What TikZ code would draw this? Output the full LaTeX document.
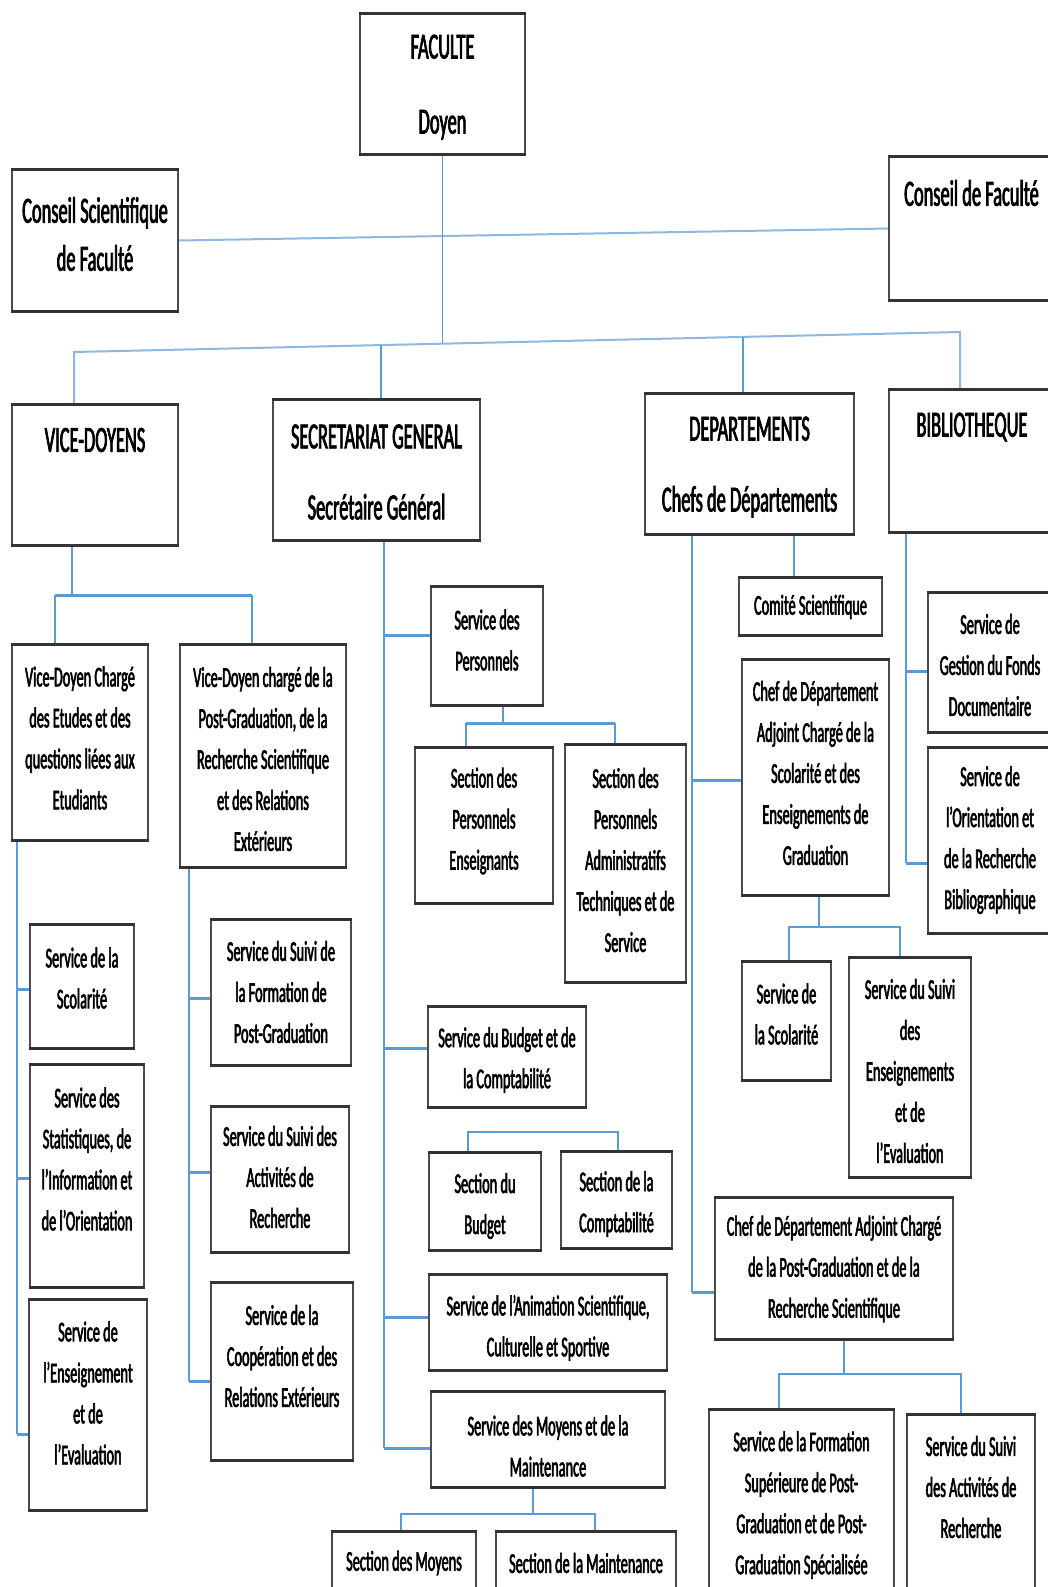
\documentclass[tikz,border=0pt]{standalone}
\usepackage{fontspec}
\setmainfont{Carlito}[FakeStretch=0.5,FakeBold=2]
\definecolor{conn}{HTML}{5B9BD5}
\definecolor{connlight}{HTML}{8DB8E2}
\pgfdeclarelayer{bg}
\pgfsetlayers{bg,main}
\newcommand\smallfs{\fontsize{14.3}{20.5}\selectfont}
\newcommand\bigfs{\fontsize{18.4}{24}\selectfont}
% #1 text style, #2 name, #3 x1, #4 y1, #5 x2, #6 y2, #7 text centre y, #8 text
\newcommand\orgbox[8][]{%
  \node[box, minimum width={(#5-#3)*0.5pt}, minimum height={(#6-#4)*0.5pt}]
    (#2) at ({(#3+#5)/2},{(#4+#6)/2}) {};
  \node[txt,#1] (#2-t) at ({(#3+#5)/2},#7) {#8};%
}
\begin{document}
\begin{tikzpicture}[x=0.5pt,y=-0.5pt,
  box/.style={draw=black!70, line width=0.7pt, fill=white, inner sep=0pt,
    append after command={
      (\tikzlastnode.north west) edge[draw=black!80, line width=1.4pt] (\tikzlastnode.north east)
      (\tikzlastnode.south west) edge[draw=black!80, line width=1.4pt] (\tikzlastnode.south east)}},
  txt/.style={align=center, inner sep=0pt, font=\smallfs},
  big/.style={font=\bigfs},
  trunk/.style={draw=conn, line width=0.6pt},
  branch/.style={draw=conn, line width=1.5pt},
  mid/.style={draw=conn, line width=0.9pt},
  link/.style={draw=connlight, line width=1pt}]
\useasboundingbox (0,0) rectangle (1048,1587);

% top level
\orgbox[big]{fac}{360}{14}{525}{154}{87}{FACULTE\\[13.5pt]Doyen}
\orgbox[big]{csf}{12}{170}{178}{311}{234}{Conseil Scientifique\\de Faculté}
\orgbox[big]{cdf}{889}{157}{1054}{300}{193}{Conseil de Faculté}

% second level
\orgbox[big]{vd}{12}{405}{178}{545}{440}{VICE-DOYENS}
\orgbox[big]{sg}{273}{400}{480}{540}{472}{SECRETARIAT GENERAL\\[11.5pt]Secrétaire Général}
\orgbox[big]{dep}{645}{394}{854}{534}{467}{DEPARTEMENTS\\[11.5pt]Chefs de Départements}
\orgbox[big]{bib}{889}{390}{1055}{532}{427}{BIBLIOTHEQUE}

% vice-deans
\orgbox{vd1}{12}{645}{148}{840}{738}{Vice-Doyen Chargé\\des Etudes et des\\questions liées aux\\Etudiants}
\orgbox{vd2}{180}{645}{346}{867}{759}{Vice-Doyen chargé de la\\Post-Graduation, de la\\Recherche Scientifique\\et des Relations\\Extérieurs}
\orgbox{vdsco}{30}{925}{134}{1048}{978}{Service de la\\Scolarité}
\orgbox{vdstat}{30}{1065}{144}{1287}{1159}{Service des\\Statistiques, de\\l’Information et\\de l’Orientation}
\orgbox{vdens}{29}{1300}{147}{1510}{1393}{Service de\\l’Enseignement\\et de\\l’Evaluation}
\orgbox{vdform}{211}{920}{351}{1065}{992}{Service du Suivi de\\la Formation de\\Post-Graduation}
\orgbox{vdact}{211}{1107}{349}{1252}{1177}{Service du Suivi des\\Activités de\\Recherche}
\orgbox{vdcoop}{211}{1283}{353}{1460}{1356}{Service de la\\Coopération et des\\Relations Extérieurs}

% general secretariat
\orgbox{sgpers}{431}{587}{543}{705}{640}{Service des\\Personnels}
\orgbox{sgpe}{415}{748}{553}{903}{821}{Section des\\Personnels\\Enseignants}
\orgbox{sgpa}{565}{745}{686}{982}{860}{Section des\\Personnels\\Administratifs\\Techniques et de\\Service}
\orgbox{sgbud}{428}{1007}{586}{1107}{1060}{Service du Budget et de\\la Comptabilité}
\orgbox{secbud}{429}{1153}{541}{1250}{1206}{Section du\\Budget}
\orgbox{seccpt}{561}{1152}{672}{1248}{1204}{Section de la\\Comptabilité}
\orgbox{sganim}{429}{1275}{667}{1370}{1328}{Service de l’Animation Scientifique,\\Culturelle et Sportive}
\orgbox{sgmoy}{431}{1392}{665}{1487}{1446}{Service des Moyens et de la\\Maintenance}
\orgbox{secmoy}{332}{1532}{476}{1610}{1563}{Section des Moyens}
\orgbox{secmnt}{496}{1532}{676}{1610}{1563}{Section de la Maintenance}

% departments
\orgbox{comite}{739}{578}{882}{635}{607}{Comité Scientifique}
\orgbox{cdag}{742}{660}{889}{895}{773}{Chef de Département\\Adjoint Chargé de la\\Scolarité et des\\Enseignements de\\Graduation}
\orgbox{dsco}{742}{962}{831}{1080}{1014}{Service de\\la Scolarité}
\orgbox{dsuivi}{849}{958}{971}{1177}{1071}{Service du Suivi\\des\\Enseignements\\et de\\l’Evaluation}
\orgbox{cdapg}{715}{1198}{953}{1339}{1269}{Chef de Département Adjoint Chargé\\de la Post-Graduation et de la\\Recherche Scientifique}
\orgbox{dform}{709}{1410}{894}{1620}{1505}{Service de la Formation\\Supérieure de Post-\\Graduation et de Post-\\Graduation Spécialisée}
\orgbox{dsar}{907}{1415}{1035}{1620}{1487}{Service du Suivi\\des Activités de\\Recherche}

% library
\orgbox{bgest}{928}{593}{1052}{732}{665}{Service de\\Gestion du Fonds\\Documentaire}
\orgbox{bori}{928}{748}{1052}{933}{840}{Service de\\l’Orientation et\\de la Recherche\\Bibliographique}

\begin{pgfonlayer}{bg}
  \fill[white] (0,0) rectangle (1048,1587);
  % councils
  \draw[link] (csf.east) -- (cdf.west);
  % main distribution line
  \coordinate (busL) at (74,352);
  \coordinate (busR) at (960,332);
  \coordinate (busF) at (442.5,343.7);
  \coordinate (busS) at (381,345.1);
  \coordinate (busD) at (743,336.9);
  \draw[trunk] (fac.south) -- (busF);
  \draw[link] (vd.north -| busL) -- (busL) -- (busR) -- (bib.north -| busR);
  \draw[trunk] (sg.north -| busS) -- (busS);
  \draw[trunk] (dep.north -| busD) -- (busD);

  % vice-deans
  \coordinate (vdJ) at (72,595);
  \coordinate (vdA) at (55,595);
  \coordinate (vdB) at (252,595);
  \draw[trunk] (vd.south -| vdJ) -- (vdJ);
  \draw[branch] (vdA) -- (vdB);
  \draw[trunk] (vdA) -- (vd1.north -| vdA);
  \draw[trunk] (vdB) -- (vd2.north -| vdB);

  \coordinate (s1) at (17,989);
  \coordinate (s2) at (17,1178);
  \coordinate (s3) at (17,1434);
  \draw[trunk] (vd1.south -| s1) -- (s3);
  \draw[branch] (s1) -- (vdsco.west |- s1);
  \draw[branch] (s2) -- (vdstat.west |- s2);
  \draw[branch] (s3) -- (vdens.west |- s3);

  \coordinate (t1) at (189,998);
  \coordinate (t2) at (189,1172);
  \coordinate (t3) at (189,1381);
  \draw[trunk] (vd2.south -| t1) -- (t3);
  \draw[branch] (t1) -- (vdform.west |- t1);
  \draw[branch] (t2) -- (vdact.west |- t2);
  \draw[branch] (t3) -- (vdcoop.west |- t3);

  % general secretariat
  \coordinate (g1) at (384,635);
  \coordinate (g2) at (384,1048);
  \coordinate (g3) at (384,1317);
  \coordinate (g4) at (384,1448);
  \draw[trunk] (sg.south -| g1) -- (g4);
  \draw[branch] (g1) -- (sgpers.west |- g1);
  \draw[branch] (g2) -- (sgbud.west |- g2);
  \draw[branch] (g3) -- (sganim.west |- g3);
  \draw[branch] (g4) -- (sgmoy.west |- g4);

  \coordinate (pJ) at (503,723);
  \coordinate (pA) at (466,723);
  \coordinate (pB) at (615,723);
  \draw[trunk] (sgpers.south -| pJ) -- (pJ);
  \draw[branch] (pA) -- (pB);
  \draw[trunk] (pA) -- (sgpe.north -| pA);
  \draw[trunk] (pB) -- (sgpa.north -| pB);

  \coordinate (bA) at (468,1132);
  \coordinate (bB) at (618,1132);
  \draw[mid] (secbud.north -| bA) -- (bA) -- (bB) -- (seccpt.north -| bB);

  \coordinate (mJ) at (533,1514);
  \coordinate (mA) at (401,1514);
  \coordinate (mB) at (595,1514);
  \draw[trunk] (sgmoy.south -| mJ) -- (mJ);
  \draw[mid] (secmoy.north -| mA) -- (mA) -- (mB) -- (secmnt.north -| mB);

  % departments
  \coordinate (d1) at (692,780);
  \coordinate (d2) at (692,1292);
  \draw[trunk] (dep.south -| d1) -- (d2);
  \draw[branch] (d1) -- (cdag.west |- d1);
  \draw[branch] (d2) -- (cdapg.west |- d2);
  \coordinate (dC) at (794,560);
  \draw[trunk] (dep.south -| dC) -- (comite.north -| dC);

  \coordinate (cJ) at (819,927);
  \coordinate (cA) at (789,927);
  \coordinate (cB) at (900,927);
  \draw[trunk] (cdag.south -| cJ) -- (cJ);
  \draw[mid] (dsco.north -| cA) -- (cA) -- (cB) -- (dsuivi.north -| cB);

  \coordinate (qJ) at (844,1374);
  \coordinate (qA) at (779,1374);
  \coordinate (qB) at (961,1374);
  \draw[trunk] (cdapg.south -| qJ) -- (qJ);
  \draw[mid] (dform.north -| qA) -- (qA) -- (qB) -- (dsar.north -| qB);

  % library
  \coordinate (l1) at (906,671);
  \coordinate (l2) at (906,863);
  \draw[trunk] (bib.south -| l1) -- (l2);
  \draw[branch] (l1) -- (bgest.west |- l1);
  \draw[branch] (l2) -- (bori.west |- l2);
\end{pgfonlayer}
\end{tikzpicture}
\end{document}
